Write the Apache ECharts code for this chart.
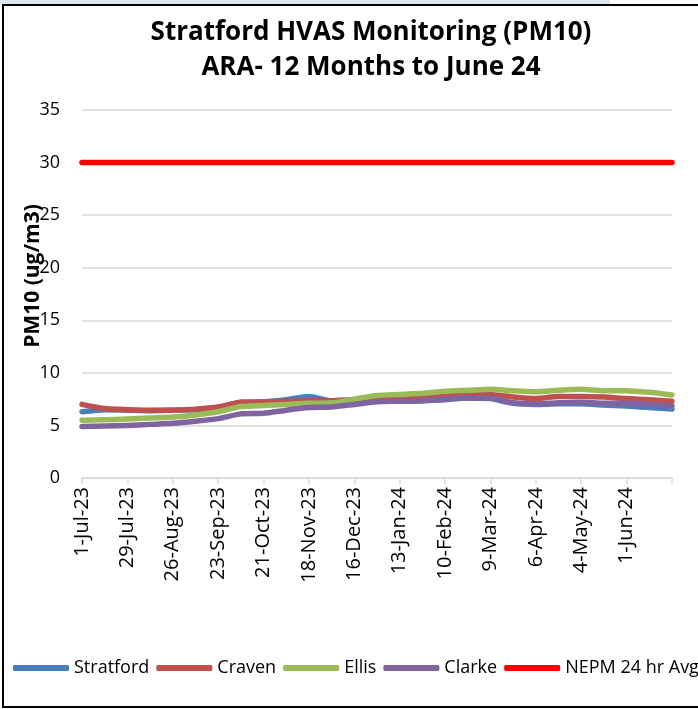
<!DOCTYPE html>
<html>
<head>
<meta charset="utf-8">
<script src="https://cdn.jsdelivr.net/npm/echarts@6/dist/echarts.min.js"></script>
<style>
  html, body {
    margin: 0;
    padding: 0;
    background: #fff;
  }
  .strip {
    position: absolute;
    left: 0;
    top: 0;
    width: 610px;
    height: 4px;
    background: #dde5ef;
  }
  .frame {
    position: absolute;
    left: 2px;
    top: 4px;
    width: 710px;
    height: 700px;
    border: 2px solid #000;
  }
  #chart {
    position: absolute;
    left: 0;
    top: 0;
    width: 698px;
    height: 709px;
  }
</style>
</head>
<body>
<div class="strip"></div>
<div class="frame"></div>
<div id="chart"></div>
<script>
// fortnightly dates, 1-Jul-23 .. 29-Jun-24
const categories = ['1-Jul-23', '15-Jul-23', '29-Jul-23', '12-Aug-23', '26-Aug-23', '9-Sep-23',
  '23-Sep-23', '7-Oct-23', '21-Oct-23', '4-Nov-23', '18-Nov-23', '2-Dec-23', '16-Dec-23',
  '30-Dec-23', '13-Jan-24', '27-Jan-24', '10-Feb-24', '24-Feb-24', '9-Mar-24', '23-Mar-24',
  '6-Apr-24', '20-Apr-24', '4-May-24', '18-May-24', '1-Jun-24', '15-Jun-24', '29-Jun-24']

const stratford = [6.3, 6.5, 6.45, 6.4, 6.45, 6.5, 6.7, 7.2, 7.25, 7.45, 7.75, 7.35, 7.4,
  7.3, 7.3, 7.35, 7.45, 7.6, 7.55, 7.1, 7.0, 7.05, 7.05, 6.95, 6.85, 6.7, 6.55]
const craven = [7.0, 6.6, 6.5, 6.45, 6.45, 6.55, 6.75, 7.2, 7.2, 7.3, 7.35, 7.35, 7.45,
  7.5, 7.6, 7.65, 7.8, 7.9, 7.95, 7.7, 7.55, 7.75, 7.75, 7.7, 7.55, 7.45, 7.3]
const ellis = [5.5, 5.55, 5.6, 5.7, 5.8, 6.0, 6.3, 6.8, 6.9, 7.0, 7.1, 7.15, 7.5,
  7.85, 7.95, 8.05, 8.25, 8.35, 8.45, 8.3, 8.2, 8.35, 8.45, 8.3, 8.3, 8.15, 7.9]
const clarke = [4.9, 4.95, 5.0, 5.1, 5.2, 5.4, 5.65, 6.1, 6.15, 6.45, 6.7, 6.75, 7.0,
  7.25, 7.3, 7.35, 7.5, 7.6, 7.6, 7.15, 7.05, 7.15, 7.2, 7.1, 7.1, 7.0, 6.85]
const nepm = categories.map(() => 30)

const seriesNames = ['Stratford', 'Craven', 'Ellis', 'Clarke', 'NEPM 24 hr Avg']
const seriesColors = ['#4a7ebb', '#c0504d', '#9bbb59', '#8064a2', '#ff0000']
const seriesData = [stratford, craven, ellis, clarke, nepm]

const font = 'Open Sans'

const chart = echarts.init(document.getElementById('chart'))

const option = {
  animation: false,
  title: {
    text: 'Stratford HVAS Monitoring (PM10)\nARA- 12 Months to June 24',
    left: 371,
    top: 15,
    padding: 0,
    textAlign: 'center',
    textStyle: {
      fontFamily: font,
      fontWeight: 'bold',
      fontSize: 26,
      lineHeight: 35,
      color: '#000'
    }
  },
  legend: {
    left: 13,
    top: 659,
    width: 1000,
    padding: 0,
    itemGap: 7,
    itemWidth: 56,
    itemHeight: 6,
    icon: 'roundRect',
    textStyle: {
      fontFamily: font,
      fontSize: 18,
      color: '#000'
    },
    data: seriesNames
  },
  grid: {
    left: 82,
    right: 26,
    top: 110,
    bottom: 231
  },
  xAxis: {
    type: 'category',
    boundaryGap: false,
    data: categories,
    axisLine: {
      lineStyle: {
        color: '#d9d9d9',
        width: 1.5
      }
    },
    axisTick: {
      interval: (i) => i % 2 === 0,
      length: 6,
      lineStyle: {
        color: '#d9d9d9',
        width: 1.5
      }
    },
    axisLabel: {
      interval: (i) => i % 2 === 0 && i < categories.length - 1,
      rotate: 90,
      margin: 9,
      fontFamily: font,
      fontSize: 20,
      color: '#000'
    }
  },
  yAxis: {
    type: 'value',
    min: 0,
    max: 35,
    interval: 5,
    name: 'PM10 (ug/m3)',
    nameLocation: 'middle',
    nameGap: 38,
    nameMoveOverlap: false,
    nameTextStyle: {
      fontFamily: font,
      fontWeight: 'bold',
      fontSize: 21,
      color: '#000',
      padding: [0, 0, 0, 36]
    },
    axisLine: {
      show: false
    },
    axisTick: {
      show: false
    },
    splitLine: {
      lineStyle: {
        color: '#d9d9d9',
        width: 1.5
      }
    },
    axisLabel: {
      margin: 22,
      fontFamily: font,
      fontSize: 18,
      color: '#000'
    }
  },
  series: seriesNames.map((name, i) => ({
    name: name,
    type: 'line',
    data: seriesData[i],
    showSymbol: false,
    smooth: 0.2,
    color: seriesColors[i],
    lineStyle: {
      width: 5.5,
      cap: 'round',
      join: 'round'
    }
  }))
}

chart.setOption(option)
</script>
</body>
</html>
